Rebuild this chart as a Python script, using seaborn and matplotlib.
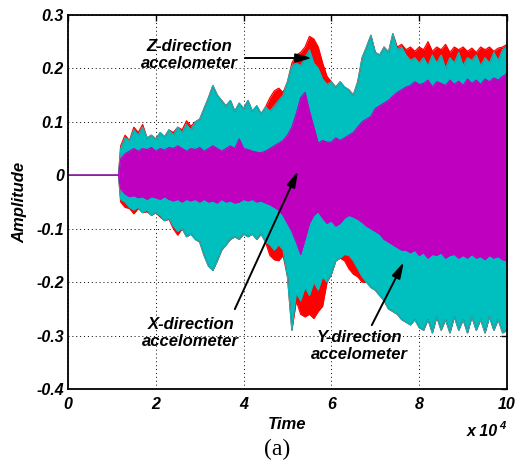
import numpy as np
import pandas as pd
import matplotlib
matplotlib.use("Agg")
import matplotlib.pyplot as plt
import seaborn as sns

# ---------------- data (time in units of 1e4) ----------------
TIME_E4 = [0, 1.15,
           1.2, 1.3, 1.4, 1.5, 1.6, 1.7, 1.8, 1.9,
           2.0, 2.1, 2.2, 2.3, 2.4, 2.5, 2.6, 2.7, 2.8, 2.9,
           3.0, 3.1, 3.2, 3.3, 3.4, 3.5, 3.6, 3.7, 3.8, 3.9,
           4.0, 4.1, 4.2, 4.3, 4.4, 4.5, 4.6, 4.7, 4.8, 4.9,
           5.0, 5.1, 5.2, 5.3, 5.4, 5.5, 5.6, 5.7, 5.8, 5.9,
           6.0, 6.1, 6.2, 6.3, 6.4, 6.5, 6.6, 6.7, 6.8, 6.9,
           7.0, 7.1, 7.2, 7.3, 7.4, 7.5, 7.6, 7.7, 7.8, 7.9,
           8.0, 8.1, 8.2, 8.3, 8.4, 8.5, 8.6, 8.7, 8.8, 8.9,
           9.0, 9.1, 9.2, 9.3, 9.4, 9.5, 9.6, 9.7, 9.8, 9.9,
           10.0]

# Z-direction accelerometer envelope (red)
Z_UPPER = [0, 0,
           0.055, 0.075, 0.065, 0.090, 0.080, 0.095, 0.070, 0.075,
           0.068, 0.080, 0.072, 0.085, 0.080, 0.090, 0.085, 0.102, 0.092, 0.100,
           0.105, 0.125, 0.145, 0.168, 0.150, 0.140, 0.130, 0.140, 0.120, 0.135,
           0.125, 0.140, 0.120, 0.130, 0.115, 0.128, 0.145, 0.158, 0.163, 0.155,
           0.175, 0.210, 0.225, 0.230, 0.240, 0.260, 0.255, 0.240, 0.210, 0.185,
           0.175, 0.165, 0.175, 0.165, 0.160, 0.150, 0.175, 0.220, 0.240, 0.262,
           0.230, 0.225, 0.240, 0.230, 0.265, 0.240, 0.245, 0.235, 0.240, 0.232,
           0.240, 0.235, 0.250, 0.232, 0.240, 0.235, 0.245, 0.230, 0.240, 0.235,
           0.240, 0.232, 0.238, 0.230, 0.240, 0.235, 0.240, 0.232, 0.238, 0.240,
           0.245]
Z_LOWER = [0, 0,
           -0.050, -0.060, -0.062, -0.072, -0.062, -0.070, -0.068, -0.075,
           -0.070, -0.078, -0.085, -0.082, -0.100, -0.112, -0.100, -0.115, -0.110, -0.120,
           -0.125, -0.150, -0.170, -0.178, -0.160, -0.140, -0.130, -0.120, -0.115, -0.120,
           -0.110, -0.115, -0.110, -0.120, -0.110, -0.125, -0.150, -0.158, -0.160, -0.150,
           -0.190, -0.290, -0.235, -0.260, -0.265, -0.260, -0.268, -0.255, -0.245, -0.200,
           -0.185, -0.160, -0.155, -0.160, -0.175, -0.185, -0.190, -0.200, -0.200, -0.210,
           -0.215, -0.225, -0.235, -0.250, -0.255, -0.260, -0.270, -0.275, -0.280, -0.270,
           -0.285, -0.290, -0.270, -0.295, -0.265, -0.290, -0.270, -0.295, -0.265, -0.290,
           -0.270, -0.295, -0.265, -0.290, -0.270, -0.295, -0.265, -0.290, -0.270, -0.295,
           -0.290]

# Y-direction accelerometer envelope (cyan)
Y_UPPER = [0, 0,
           0.050, 0.070, 0.065, 0.085, 0.075, 0.090, 0.070, 0.075,
           0.068, 0.080, 0.072, 0.085, 0.075, 0.090, 0.080, 0.095, 0.085, 0.100,
           0.105, 0.125, 0.145, 0.168, 0.150, 0.140, 0.130, 0.140, 0.120, 0.135,
           0.125, 0.140, 0.120, 0.130, 0.115, 0.128, 0.120, 0.130, 0.140, 0.150,
           0.175, 0.205, 0.210, 0.205, 0.220, 0.235, 0.210, 0.200, 0.180, 0.170,
           0.175, 0.165, 0.175, 0.165, 0.160, 0.150, 0.175, 0.220, 0.240, 0.262,
           0.230, 0.225, 0.240, 0.230, 0.265, 0.235, 0.240, 0.225, 0.215, 0.220,
           0.210, 0.220, 0.205, 0.225, 0.210, 0.225, 0.200, 0.220, 0.210, 0.230,
           0.205, 0.220, 0.215, 0.225, 0.205, 0.220, 0.210, 0.230, 0.215, 0.235,
           0.240]
Y_LOWER = [0, 0,
           -0.045, -0.050, -0.060, -0.065, -0.060, -0.070, -0.065, -0.075,
           -0.070, -0.075, -0.085, -0.080, -0.095, -0.105, -0.100, -0.115, -0.110, -0.120,
           -0.125, -0.150, -0.170, -0.178, -0.160, -0.140, -0.130, -0.120, -0.115, -0.120,
           -0.110, -0.115, -0.110, -0.120, -0.110, -0.125, -0.130, -0.140, -0.130, -0.140,
           -0.190, -0.290, -0.220, -0.235, -0.210, -0.225, -0.200, -0.215, -0.190, -0.200,
           -0.185, -0.160, -0.155, -0.148, -0.150, -0.160, -0.175, -0.190, -0.200, -0.210,
           -0.215, -0.225, -0.235, -0.250, -0.255, -0.260, -0.270, -0.275, -0.280, -0.270,
           -0.285, -0.290, -0.270, -0.295, -0.265, -0.290, -0.270, -0.295, -0.265, -0.290,
           -0.270, -0.295, -0.265, -0.290, -0.270, -0.295, -0.265, -0.290, -0.270, -0.295,
           -0.290]

# X-direction accelerometer envelope (magenta)
X_UPPER = [0, 0,
           0.030, 0.040, 0.045, 0.050, 0.045, 0.050, 0.048, 0.052,
           0.045, 0.050, 0.047, 0.052, 0.050, 0.055, 0.050, 0.045, 0.050, 0.048,
           0.052, 0.045, 0.050, 0.055, 0.050, 0.045, 0.050, 0.055, 0.050, 0.068,
           0.050, 0.048, 0.045, 0.043, 0.042, 0.045, 0.050, 0.055, 0.060, 0.065,
           0.075, 0.090, 0.115, 0.145, 0.155, 0.120, 0.090, 0.060, 0.065, 0.062,
           0.062, 0.070, 0.065, 0.070, 0.075, 0.080, 0.090, 0.100, 0.105, 0.110,
           0.125, 0.130, 0.135, 0.140, 0.148, 0.155, 0.160, 0.165, 0.168, 0.175,
           0.170, 0.172, 0.178, 0.165, 0.175, 0.172, 0.168, 0.178, 0.170, 0.176,
           0.168, 0.180, 0.172, 0.178, 0.170, 0.180, 0.175, 0.182, 0.178, 0.185,
           0.190]
X_LOWER = [0, 0,
           -0.025, -0.035, -0.040, -0.038, -0.042, -0.040, -0.045, -0.040,
           -0.042, -0.045, -0.040, -0.045, -0.048, -0.045, -0.050, -0.045, -0.048, -0.045,
           -0.050, -0.045, -0.050, -0.048, -0.052, -0.045, -0.050, -0.048, -0.052, -0.050,
           -0.045, -0.048, -0.045, -0.050, -0.048, -0.052, -0.055, -0.060, -0.065, -0.075,
           -0.090, -0.105, -0.125, -0.148, -0.120, -0.090, -0.075, -0.068, -0.080, -0.090,
           -0.085, -0.095, -0.090, -0.080, -0.075, -0.078, -0.082, -0.088, -0.095, -0.100,
           -0.105, -0.110, -0.120, -0.125, -0.130, -0.135, -0.140, -0.140, -0.145, -0.140,
           -0.150, -0.145, -0.155, -0.148, -0.150, -0.145, -0.155, -0.150, -0.148, -0.155,
           -0.150, -0.155, -0.148, -0.155, -0.152, -0.158, -0.150, -0.155, -0.152, -0.158,
           -0.160]

XTICKS = [0, 2, 4, 6, 8, 10]
XTICK_LABELS = ["0", "2", "4", "6", "8", "10"]
YTICKS = [0.3, 0.2, 0.1, 0, -0.1, -0.2, -0.3, -0.4]
YTICK_LABELS = ["0.3", "0.2", "0.1", "0", "-0.1", "-0.2", "-0.3", "-0.4"]

# ---------------- style ----------------
sns.set_theme(style="white")
plt.rcParams["font.family"] = ["Liberation Sans", "DejaVu Sans"]
plt.rcParams["font.weight"] = "bold"
plt.rcParams["font.style"] = "italic"
plt.rcParams["axes.unicode_minus"] = False
plt.rcParams["text.color"] = "black"
plt.rcParams["axes.labelcolor"] = "black"
plt.rcParams["xtick.color"] = "black"
plt.rcParams["ytick.color"] = "black"

W, H = 521, 471
fig = plt.figure(figsize=(W / 100, H / 100), dpi=100)
fig.patch.set_facecolor("white")
ax = fig.add_axes([68 / W, 1 - 389 / H, 439 / W, 374 / H])
ax.set_facecolor("white")

df = pd.DataFrame({"t": TIME_E4,
                   "z_hi": Z_UPPER, "z_lo": Z_LOWER,
                   "y_hi": Y_UPPER, "y_lo": Y_LOWER,
                   "x_hi": X_UPPER, "x_lo": X_LOWER})

series = [("z", "#ff0000"), ("y", "#00bfbf"), ("x", "#bf00bf")]
for key, col in series:
    ax.fill_between(df["t"], df[key + "_lo"], df[key + "_hi"], color=col,
                    lw=0, zorder=2)
    sns.lineplot(data=df, x="t", y=key + "_hi", ax=ax, color=col, lw=0.9,
                 legend=False, zorder=2.1)
    sns.lineplot(data=df, x="t", y=key + "_lo", ax=ax, color=col, lw=0.9,
                 legend=False, zorder=2.1)

ax.set_xlim(0, 10)
ax.set_ylim(-0.4, 0.3)
ax.set_xticks(XTICKS)
ax.set_xticklabels(XTICK_LABELS)
ax.set_yticks(YTICKS)
ax.set_yticklabels(YTICK_LABELS)
ax.tick_params(direction="in", length=4, width=1, top=True, right=True,
               labelsize=11.5, colors="black")
ax.tick_params(axis="x", pad=6)
ax.tick_params(axis="y", pad=3)
for lab in ax.get_xticklabels() + ax.get_yticklabels():
    lab.set_fontweight("bold")
    lab.set_fontstyle("italic")
    lab.set_color("black")

ax.grid(True, linestyle=(0, (1, 3)), color="black", lw=0.7)
ax.set_axisbelow(True)
for sp in ax.spines.values():
    sp.set_color("black")
    sp.set_linewidth(1.3)
    sp.set_zorder(5)

ax.set_xlabel("Time", fontsize=12, fontweight="bold", fontstyle="italic",
              color="black")
ax.set_ylabel("Amplitude", fontsize=12, fontweight="bold", fontstyle="italic",
              color="black")
ax.xaxis.set_label_coords(0.5, -0.075)
ax.yaxis.set_label_coords(-0.093, 0.5)
ax.xaxis.label.set_va("top")

# annotations
txt_kw = dict(fontsize=12, fontweight="bold", fontstyle="italic",
              ha="center", va="center", linespacing=1.15, zorder=6,
              color="black")
arr_kw = dict(arrowstyle="-|>,head_width=0.22,head_length=0.8",
              color="black", lw=1.4, shrinkA=0, shrinkB=0)

ax.text(2.76, 0.225, "Z-direction\naccelometer", **txt_kw)
ax.annotate("", xy=(5.56, 0.2195), xytext=(4.03, 0.2195), arrowprops=arr_kw,
            zorder=6)

ax.text(2.80, -0.2946, "X-direction\naccelometer", **txt_kw)
ax.annotate("", xy=(5.24, 0.008), xytext=(3.80, -0.2506), arrowprops=arr_kw,
            zorder=6)

ax.text(6.63, -0.32, "Y-direction\naccelometer", **txt_kw)
ax.annotate("", xy=(7.65, -0.1625), xytext=(6.92, -0.2805), arrowprops=arr_kw,
            zorder=6)

# exponent label
fig.text(498 / W, 1 - 432 / H, "x 10", fontsize=11.5, fontweight="bold",
         fontstyle="italic", ha="right", va="center", color="black")
fig.text(499 / W, 1 - 426 / H, "4", fontsize=8, fontweight="bold",
         fontstyle="italic", ha="left", va="center", color="black")

# panel label
fig.text(277.5 / W, 1 - 449 / H, "(a)", fontsize=17,
         family=["Liberation Serif", "DejaVu Serif"], fontweight="normal",
         fontstyle="normal", ha="center", va="center", color="black")

fig.savefig("out.png", dpi=100, facecolor="white")
